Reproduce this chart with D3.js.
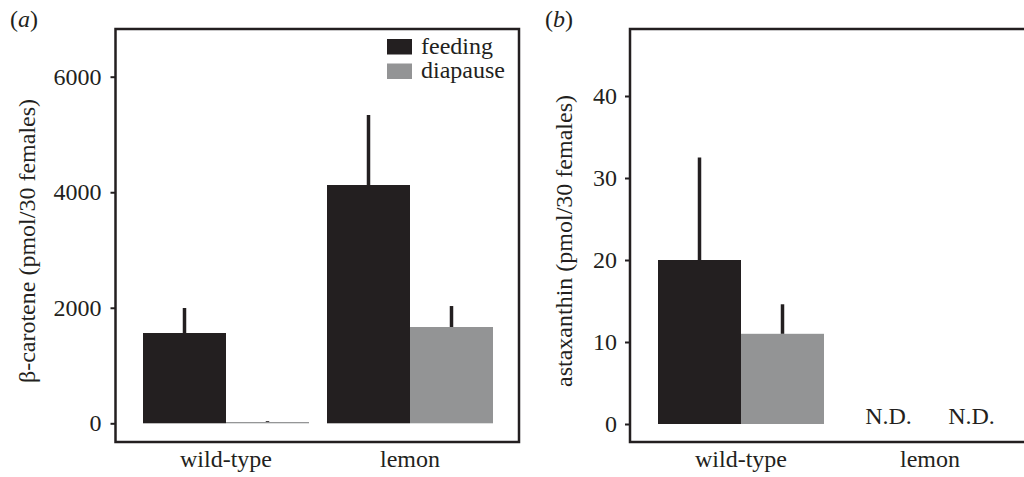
<!DOCTYPE html>
<html>
<head>
<meta charset="utf-8">
<script src="https://cdn.jsdelivr.net/npm/d3@7"></script>
<style>
  html, body { margin: 0; padding: 0; background: #fff; }
  svg { display: block; }
  svg text { font-family: "Times New Roman", "Liberation Serif", Tinos, Times, "Nimbus Roman", serif; fill: #231f20; }
</style>
</head>
<body>
<svg id="chart" width="1024" height="477"></svg>
<script>
// ---- data ----
const groups = ["wild-type", "lemon"];
const seriesNames = ["feeding", "diapause"];
const seriesColors = ["#231f20", "#939495"];

// panel (a): beta-carotene
const carotFeeding = [1563, 4125];
const carotFeedingErr = [433, 1212];
const carotDiapause = [22, 1667];
const carotDiapauseErr = [15, 363];
const carotTicks = [0, 2000, 4000, 6000];

// panel (b): astaxanthin (null = N.D.)
const astaFeeding = [20, null];
const astaFeedingErr = [12.5, null];
const astaDiapause = [11, null];
const astaDiapauseErr = [3.6, null];
const astaTicks = [0, 10, 20, 30, 40];

const ink = "#231f20";
const FONT = '"Times New Roman", "Liberation Serif", Tinos, Times, "Nimbus Roman", serif';
const svg = d3.select("#chart").attr("font-family", FONT);
const FS = 24;

function panel(cfg) {
  const g = svg.append("g");
  const x0 = d3.scaleBand().domain(groups).range(cfg.xRange).paddingInner(cfg.padInner).paddingOuter(0);
  const x1 = d3.scaleBand().domain(seriesNames).range([0, x0.bandwidth()]).padding(0);
  const y = d3.scaleLinear().domain([0, cfg.yMaxTick]).range([cfg.y0, cfg.yTop]);

  const rows = [];
  groups.forEach((grp, i) => {
    seriesNames.forEach((s, j) => {
      rows.push({grp, s, color: seriesColors[j], v: cfg.values[j][i], e: cfg.errors[j][i]});
    });
  });

  g.selectAll("rect.bar").data(rows.filter(d => d.v != null)).join("rect")
    .attr("class", "bar")
    .attr("x", d => x0(d.grp) + x1(d.s))
    .attr("width", x1.bandwidth())
    .attr("y", d => y(d.v))
    .attr("height", d => y(0) - y(d.v))
    .attr("fill", d => d.color);

  g.selectAll("line.err").data(rows.filter(d => d.v != null)).join("line")
    .attr("class", "err")
    .attr("x1", d => x0(d.grp) + x1(d.s) + x1.bandwidth() / 2)
    .attr("x2", d => x0(d.grp) + x1(d.s) + x1.bandwidth() / 2)
    .attr("y1", d => y(d.v))
    .attr("y2", d => y(d.v + d.e))
    .attr("stroke", ink).attr("stroke-width", 3.5);

  g.selectAll("text.nd").data(rows.filter(d => d.v == null)).join("text")
    .attr("class", "nd")
    .attr("x", d => x0(d.grp) + x1(d.s) + x1.bandwidth() / 2)
    .attr("y", y(0))
    .attr("text-anchor", "middle")
    .attr("font-size", FS)
    .text("N.D.");

  const ya = g.append("g").attr("transform", `translate(${cfg.frame[0]},0)`)
    .call(d3.axisLeft(y).tickValues(cfg.ticks).tickSize(5).tickPadding(cfg.tickPad).tickFormat(d3.format("d")));
  ya.attr("font-family", FONT);
  ya.select(".domain").remove();
  ya.selectAll(".tick line").attr("stroke", ink).attr("stroke-width", 2);
  ya.selectAll(".tick text").attr("font-size", FS).attr("fill", ink);

  const xa = g.append("g").attr("transform", `translate(0,${cfg.frame[3]})`)
    .call(d3.axisBottom(x0).tickSize(0).tickPadding(8));
  xa.attr("font-family", FONT);
  xa.select(".domain").remove();
  xa.selectAll(".tick text").attr("font-size", FS).attr("fill", ink);

  g.append("rect")
    .attr("x", cfg.frame[0]).attr("y", cfg.frame[1])
    .attr("width", cfg.frame[2] - cfg.frame[0]).attr("height", cfg.frame[3] - cfg.frame[1])
    .attr("fill", "none").attr("stroke", ink).attr("stroke-width", 2.5);

  g.append("text")
    .attr("transform", `translate(${cfg.titleX},241) rotate(-90)`)
    .attr("text-anchor", "middle")
    .attr("font-size", FS)
    .text(cfg.yTitle);

  const pl = g.append("text").attr("x", cfg.labelX).attr("y", 27).attr("font-size", FS);
  pl.append("tspan").text("(");
  pl.append("tspan").attr("font-style", "italic").text(cfg.letter);
  pl.append("tspan").text(")");

  return {x0, x1, y, g};
}

panel({
  xRange: [143, 493], padInner: 18 / 184,
  y0: 423.3, yTop: 76.7, yMaxTick: 6000,
  values: [carotFeeding, carotDiapause], errors: [carotFeedingErr, carotDiapauseErr],
  ticks: carotTicks, tickPad: 9,
  frame: [115.5, 29, 519, 442],
  titleX: 35, yTitle: "β-carotene (pmol/30 females)",
  labelX: 10, letter: "a"
});

panel({
  xRange: [658, 1013], padInner: 23 / 189,
  y0: 424, yTop: 96, yMaxTick: 40,
  values: [astaFeeding, astaDiapause], errors: [astaFeedingErr, astaDiapauseErr],
  ticks: astaTicks, tickPad: 8,
  frame: [630, 29, 1032, 442],
  titleX: 572, yTitle: "astaxanthin (pmol/30 females)",
  labelX: 545, letter: "b"
});

const leg = svg.append("g");
seriesNames.forEach((s, i) => {
  const row = leg.append("g").attr("transform", `translate(387,${39 + i * 24.5})`);
  row.append("rect").attr("width", 25).attr("height", 15.5).attr("fill", seriesColors[i]);
  row.append("text").attr("x", 34).attr("y", 14.5).attr("font-size", FS).text(s);
});
</script>
</body>
</html>
